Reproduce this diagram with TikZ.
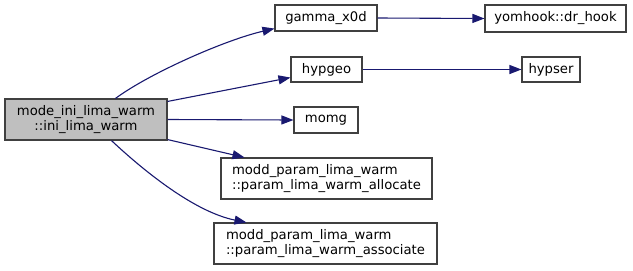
\documentclass[tikz,border=0pt]{standalone}
\usepackage{fontspec}
\setmainfont{DejaVu Sans}
\usetikzlibrary{arrows.meta,calc}
\definecolor{edgeblue}{RGB}{25,25,112}
\definecolor{boxline}{RGB}{64,64,64}
\definecolor{mainfill}{RGB}{191,191,191}
\begin{document}
\begin{tikzpicture}[x=1bp,y=-1bp,
  fn/.style={draw=boxline,line width=1.1bp,fill=white,inner sep=0pt,
    font=\fontsize{13.2bp}{14.5bp}\selectfont,align=left},
  mainbox/.style={fn,fill=mainfill,align=center},
  call/.style={draw=edgeblue,line width=1.1bp,
    -{Triangle[length=12bp,width=9bp]}},
]
\useasboundingbox (0,0) rectangle (633,270);
\fill[white] (0,0) rectangle (633,270);

% functions
\node[mainbox,minimum width=162bp,minimum height=41bp] (main) at (86,119.5)
  {mode\_ini\_lima\_warm\\::ini\_lima\_warm};
\node[fn,minimum width=102bp,minimum height=26bp] (gamma) at (326,18) {gamma\_x0d};
\node[fn,minimum width=141bp,minimum height=27bp] (yom) at (555.5,18.5) {yomhook::dr\_hook};
\node[fn,minimum width=71bp,minimum height=25bp] (hypgeo) at (326.5,69.5) {hypgeo};
\node[fn,minimum width=58bp,minimum height=25bp] (hypser) at (551,69.5) {hypser};
\node[fn,minimum width=64bp,minimum height=26bp] (momg) at (326,120) {momg};
\node[fn,minimum width=211bp,minimum height=41bp] (alloc) at (326.5,178.5)
  {modd\_param\_lima\_warm\\::param\_lima\_warm\_allocate};
\node[fn,minimum width=223bp,minimum height=41bp] (assoc) at (325.5,243.5)
  {modd\_param\_lima\_warm\\::param\_lima\_warm\_associate};

% calls
\draw[call] ($(main.north west)+(111,0)$) .. controls (150,73) and (225,40) ..
  ($(gamma.south west)+(0,-3)$);
\draw[call] ($(main.north east)+(0,3)$) -- ($(hypgeo.south west)+(0,-5)$);
\draw[call] (main.east) -- (momg.west);
\draw[call] ($(main.south east)+(0,-1)$) -- ($(alloc.north west)+(24,0)$);
\draw[call] ($(main.south west)+(107,0)$) .. controls (145,172) and (195,212) ..
  ($(assoc.north west)+(33,0)$);
\draw[call] (gamma.east) -- (yom.west);
\draw[call] (hypgeo.east) -- (hypser.west);
\end{tikzpicture}
\end{document}
